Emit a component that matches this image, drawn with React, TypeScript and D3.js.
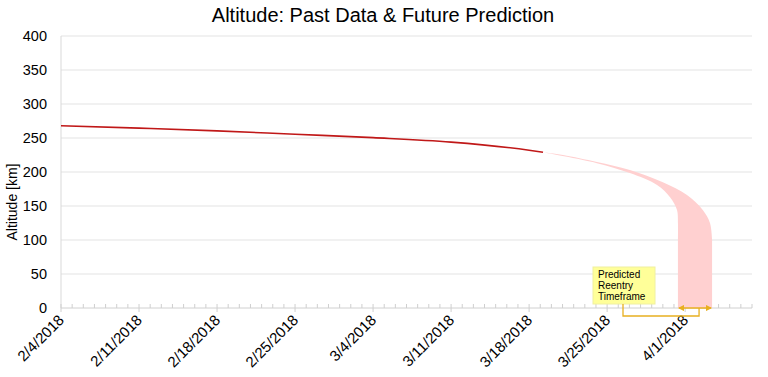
import React from "react";
import * as d3 from "d3";

const W = 768;
const H = 377;

const title = "Altitude: Past Data & Future Prediction";
const yTitle = "Altitude [km]";
const yTicks = [0, 50, 100, 150, 200, 250, 300, 350, 400];
const xStart = "2018-02-04";
const xEnd = "2018-04-07";
const xTickDates = ["2018-02-04", "2018-02-11", "2018-02-18", "2018-02-25", "2018-03-04", "2018-03-11", "2018-03-18", "2018-03-25", "2018-04-01"];
const xTickLabels = ["2/4/2018", "2/11/2018", "2/18/2018", "2/25/2018", "3/4/2018", "3/11/2018", "3/18/2018", "3/25/2018", "4/1/2018"];

// Past measured altitude
const pastDates = ["2018-02-04T00:00", "2018-02-11T00:00", "2018-02-18T00:00", "2018-02-25T00:00", "2018-03-04T00:00", "2018-03-11T00:00", "2018-03-18T00:00", "2018-03-19T06:00"];
const pastAlt = [268, 264.5, 260.5, 255.5, 250.5, 244, 232, 229];

// Prediction band: late-decay (upper) boundary
const lateDates = ["2018-03-19T06:00", "2018-03-21T01:00", "2018-03-24T02:00", "2018-03-27T01:00", "2018-03-30T00:00", "2018-04-01T04:00", "2018-04-02T14:00", "2018-04-03T05:30", "2018-04-03T10:00"];
const lateAlt = [229, 225, 214.7, 203, 185, 166, 144, 125, 100];
// Prediction band: early-decay (lower) boundary
const earlyDates = ["2018-03-19T06:00", "2018-03-24T02:00", "2018-03-27T01:00", "2018-03-29T11:30", "2018-03-30T15:30", "2018-03-31T06:30", "2018-03-31T08:30", "2018-03-31T08:30"];
const earlyAlt = [229, 213, 198.5, 181, 163, 144, 125, 100];

const annotationLines = ["Predicted", "Reentry", "Timeframe"];

const parse = (s: string) => {
  const [d, t] = s.split("T");
  const [y, m, dd] = d.split("-").map(Number);
  let hh = 0, mm = 0;
  if (t) [hh, mm] = t.split(":").map(Number);
  return new Date(Date.UTC(y, m - 1, dd, hh, mm));
};

export default function App() {
  const left = 61, right = 752, top = 36, bottom = 308;
  const x = d3.scaleUtc().domain([parse(xStart), parse(xEnd)]).range([left, right]);
  const y = d3.scaleLinear().domain([0, 400]).range([bottom, top]);

  const days = d3.utcDay.range(parse(xStart), d3.utcDay.offset(parse(xEnd), 1));

  const past = pastDates.map((d, i) => [x(parse(d)), y(pastAlt[i])] as [number, number]);
  const late = lateDates.map((d, i) => [x(parse(d)), y(lateAlt[i])] as [number, number]);
  const early = earlyDates.map((d, i) => [x(parse(d)), y(earlyAlt[i])] as [number, number]);

  const cr = d3.line().curve(d3.curveCatmullRom.alpha(0.5));
  const lateEnd = late[late.length - 1];
  const earlyEnd = early[early.length - 1];
  const earlyRev = cr([...early].reverse()) || "";
  const bandPath =
    (cr(late) || "") +
    `L${lateEnd[0]},${y(0)}L${earlyEnd[0]},${y(0)}` +
    "L" + earlyRev.slice(1) + "Z";

  const pastPath = d3.line().curve(d3.curveMonotoneX)(past) || "";

  const gold = "#e8b020";
  const boxX = 593, boxY = 267, boxW = 62, boxH = 37;
  const bracketX = 623;
  const arrowY = y(0);

  return (
    <svg width={W} height={H} style={{ position: "absolute", left: 0, top: 0, background: "#fff" }} fontFamily="Liberation Sans, Arial, sans-serif">
      <defs>
        <marker id="ah" viewBox="0 0 6 6" refX="5" refY="3" markerWidth="5" markerHeight="5" orient="auto-start-reverse">
          <path d="M0,0L6,3L0,6Z" fill={gold} />
        </marker>
      </defs>
      <rect width={W} height={H} fill="#fff" />
      <text x={383} y={22} textAnchor="middle" fontSize={20} fill="#000">{title}</text>
      {yTicks.map((t) => (
        <g key={t}>
          {t > 0 && <line x1={left} x2={right} y1={y(t)} y2={y(t)} stroke="#e3e3e3" strokeWidth={1} />}
          <text x={47} y={y(t) + 5} textAnchor="end" fontSize={14.5} fill="#000">{t}</text>
        </g>
      ))}
      <line x1={left} x2={left} y1={top} y2={bottom} stroke="#d9d9d9" />
      <line x1={left} x2={right} y1={bottom} y2={bottom} stroke="#d0d0d0" />
      {days.map((d, i) => (
        <line key={i} x1={x(d)} x2={x(d)} y1={bottom - 4} y2={bottom + (i % 7 === 0 ? 4 : 0)} stroke="#cfcfcf" />
      ))}
      {xTickDates.map((d, i) => (
        <text key={d} transform={`translate(${x(parse(d)) + 4},${bottom + 13}) rotate(-45)`} textAnchor="end" fontSize={15} fill="#000">{xTickLabels[i]}</text>
      ))}
      <text transform={`translate(17,202) rotate(-90)`} textAnchor="middle" fontSize={14} fill="#000">{yTitle}</text>

      <path d={bandPath} fill="#ffd0d0" stroke="none" />
      <path d={pastPath} fill="none" stroke="#c01818" strokeWidth={1.6} />

      <rect x={boxX} y={boxY} width={boxW} height={boxH} fill="#ffff99" stroke="#f0f0a0" />
      {annotationLines.map((s, i) => (
        <text key={s} x={boxX + 5} y={boxY + 11 + i * 11} fontSize={10} fill="#000">{s}</text>
      ))}
      <path d={`M${bracketX},${boxY + boxH}V${bottom + 8}H${x(parse("2018-04-02T06:00"))}V${arrowY}`} fill="none" stroke={gold} strokeWidth={1.3} />
      <line x1={earlyEnd[0] + 1} x2={lateEnd[0] - 1} y1={arrowY} y2={arrowY} stroke={gold} strokeWidth={1.3} markerStart="url(#ah)" markerEnd="url(#ah)" />
    </svg>
  );
}
